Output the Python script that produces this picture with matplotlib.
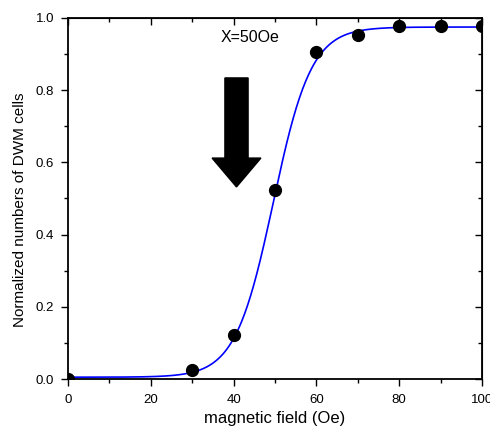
import numpy as np
import matplotlib
matplotlib.use("Agg")
import matplotlib.pyplot as plt
from matplotlib.patches import FancyArrow

plt.rcParams['font.family'] = ['Liberation Sans', 'DejaVu Sans']

# measured data
field = [0, 30, 40, 50, 60, 70, 80, 90, 100]
fraction = [0.0, 0.025, 0.122, 0.524, 0.905, 0.953, 0.977, 0.977, 0.977]

# Boltzmann fit parameters
A1, A2, X0, DX = 0.005, 0.975, 49.6, 4.6

xticks = [0, 20, 40, 60, 80, 100]
yticks = [0.0, 0.2, 0.4, 0.6, 0.8, 1.0]

fig = plt.figure(figsize=(4.9, 4.3), dpi=100)
ax = fig.add_axes([68/490, 1-379/430, 414/490, 361/430])

xf = np.linspace(0, 100, 400)
yf = A2 + (A1 - A2) / (1 + np.exp((xf - X0) / DX))
ax.plot(xf, yf, color='#0000ff', lw=1.2, zorder=2)
ax.plot(field, fraction, 'o', color='black', ms=8.5, zorder=3, clip_on=True)

ax.set_xlim(0, 100)
ax.set_ylim(0, 1.0)
ax.set_xticks(xticks)
ax.set_yticks(yticks)
ax.set_xticklabels([str(t) for t in xticks])
ax.set_yticklabels([f"{t:.1f}" for t in yticks])
ax.set_xticks(np.arange(10, 100, 20), minor=True)
ax.set_yticks(np.arange(0.1, 1.0, 0.2), minor=True)

ax.tick_params(axis='both', which='major', direction='out', length=5, width=1,
               labelsize=9.5, colors='black')
ax.tick_params(axis='x', which='major', pad=6)
ax.tick_params(axis='y', which='major', pad=5)
ax.tick_params(axis='both', which='minor', direction='out', length=3, width=1)
for s in ax.spines.values():
    s.set_linewidth(1.3)

# mirrored inward ticks on top and right
sec_x = ax.secondary_xaxis('top')
sec_x.set_xticks(xticks)
sec_x.set_xticks(np.arange(10, 100, 20), minor=True)
sec_x.tick_params(which='major', direction='in', length=5, width=1, labeltop=False)
sec_x.tick_params(which='minor', direction='in', length=3, width=1)
sec_x.set_xticklabels([])
sec_y = ax.secondary_yaxis('right')
sec_y.set_yticks(yticks)
sec_y.set_yticks(np.arange(0.1, 1.0, 0.2), minor=True)
sec_y.tick_params(which='major', direction='in', length=5, width=1)
sec_y.tick_params(which='minor', direction='in', length=3, width=1)
sec_y.set_yticklabels([])

ax.set_xlabel('magnetic field (Oe)', fontsize=12)
ax.xaxis.set_label_coords(0.5, -0.088)
ax.set_ylabel('Normalized numbers of DWM cells', fontsize=11)
ax.yaxis.set_label_coords(-0.099, 0.47)

ax.text(44.0, 0.945, 'X=50Oe', fontsize=11.5, ha='center', va='center')

arrow = FancyArrow(40.7, 0.834, 0, -0.302, width=5.6, head_width=11.8,
                   head_length=0.08, length_includes_head=True,
                   color='black', zorder=4)
ax.add_patch(arrow)

fig.savefig('out.png', dpi=100)
